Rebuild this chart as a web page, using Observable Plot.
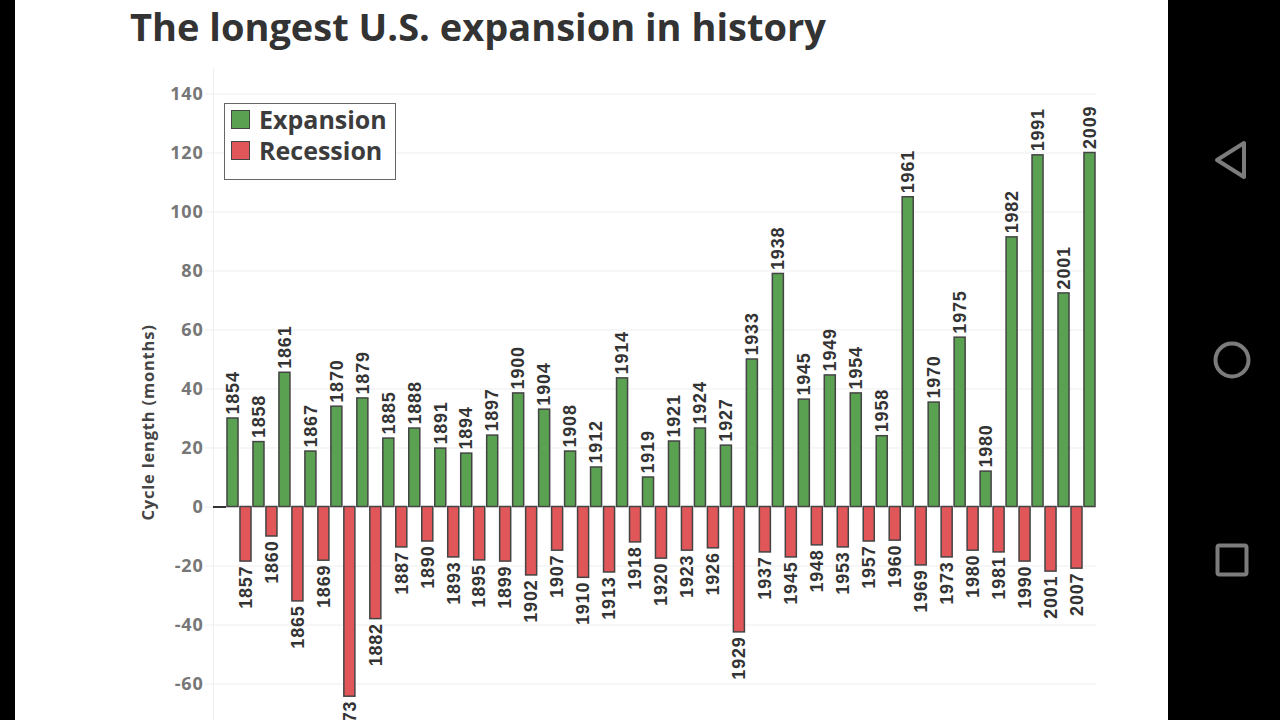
<!DOCTYPE html>
<html>
<head>
<meta charset="utf-8">
<script src="https://cdn.jsdelivr.net/npm/d3@7"></script>
<script src="https://cdn.jsdelivr.net/npm/@observablehq/plot@0.6"></script>
<style>
html,body{margin:0;padding:0;background:#000;width:1280px;height:720px;overflow:hidden}
#page{position:absolute;left:15px;top:0;width:1153px;height:720px;background:#fff;overflow:hidden}
#title{position:absolute;left:115px;top:0px;font:700 38px 'Open Sans',sans-serif;color:#333;white-space:nowrap;z-index:2}
#chart{position:absolute;left:0;top:0}
#chart svg{display:block;letter-spacing:0.8px}
#legend{position:absolute;left:209px;top:103px;width:170px;height:75px;border:1px solid #666;background:#fff;z-index:2;font:700 25px 'Open Sans',sans-serif;color:#3c3c3c}
.row{position:absolute;left:6px;display:flex;align-items:center;gap:9px;height:30px}
.sw{width:17px;height:17px;border:1px solid #444;display:inline-block}
#nav{position:absolute;left:1168px;top:0}
</style>
</head>
<body>
<div id="page">
<div id="title">The longest U.S. expansion in history</div>
<div id="chart"></div>
<div id="legend"></div>
</div>
<svg id="nav" width="112" height="720" fill="none" stroke="#7c7c7c" stroke-width="4" stroke-linejoin="round">
<path d="M49 160 L76 143 V177 Z"/>
<circle cx="64" cy="360" r="16.5"/>
<rect x="49.5" y="545.5" width="29" height="29" rx="2"/>
</svg>
<script>
const expansionYears = [1854,1858,1861,1867,1870,1879,1885,1888,1891,1894,1897,1900,1904,1908,1912,1914,1919,1921,1924,1927,1933,1938,1945,1949,1954,1958,1961,1970,1975,1980,1982,1991,2001,2009];
const expansionMonths = [30,22,45.5,18.8,34,36.8,23.2,26.6,19.8,18.1,24.2,38.5,33,18.8,13.4,43.6,10,22.2,26.6,20.8,50,79,36.4,44.6,38.5,24,105,35.4,57.4,12,91.4,119.2,72.4,120];
const recessionYears = [1857,1860,1865,1869,1873,1882,1887,1890,1893,1895,1899,1902,1907,1910,1913,1918,1920,1923,1926,1929,1937,1945,1948,1953,1957,1960,1969,1973,1980,1981,1990,2001,2007];
const recessionMonths = [-18.5,-10,-32,-18.2,-64.3,-38,-13.7,-11.7,-17.1,-18.1,-18.5,-23.2,-14.8,-24,-22.2,-12,-17.5,-14.8,-14,-42.5,-15.4,-17.1,-13,-13.7,-11.7,-11.4,-19.8,-17.1,-14.8,-15.4,-18.5,-21.9,-20.9];
const tickValues = [-60,-40,-20,0,20,40,60,80,100,120,140];
const seriesNames = ["Expansion","Recession"];
const seriesColors = ["#5aa151","#e15759"];

const rows = [];
expansionYears.forEach((year,i)=>{
  rows.push({key:"E"+year,year:String(year),months:expansionMonths[i],type:seriesNames[0]});
  if(i<recessionYears.length) rows.push({key:"R"+recessionYears[i],year:String(recessionYears[i]),months:recessionMonths[i],type:seriesNames[1]});
});
const up = rows.filter(d=>d.months>0), down = rows.filter(d=>d.months<0);
const labelFont = {fontFamily:"'Liberation Sans',Arial,sans-serif",fontWeight:700,fontSize:18,fill:"#333"};

const plot = Plot.plot({
  width:1153,height:720,
  marginLeft:198,marginRight:72,marginTop:68,marginBottom:0,
  style:{background:"transparent",fontFamily:"'Liberation Sans',sans-serif"},
  x:{type:"band",domain:["",...rows.map(d=>d.key)],range:[199,1080],paddingInner:0.15,paddingOuter:0,round:false,axis:null},
  y:{domain:[-72.37,148.64],ticks:tickValues,label:null},
  color:{domain:seriesNames,range:seriesColors},
  marks:[
    Plot.ruleX([0],{frameAnchor:"left",x:()=>"",dx:-6.5,stroke:"#eee"}),
    Plot.gridY(tickValues,{stroke:"#eee",strokeOpacity:1}),
    Plot.axisY(tickValues,{anchor:"left",tickSize:8,tickPadding:2,stroke:"#eee",fill:"#777",fontWeight:700,fontSize:18,fontFamily:"'Open Sans',sans-serif",tickFormat:d=>String(d),label:null}),
    Plot.axisY([0],{anchor:"left",tickSize:-13,stroke:"#333",strokeWidth:2,text:()=>"",label:null}),
    Plot.barY(rows,{x:"key",y:"months",fill:"type",stroke:"#444",strokeWidth:1.5}),
    Plot.text(up,{x:"key",y:"months",text:"year",rotate:-90,textAnchor:"start",dy:-4,...labelFont}),
    Plot.text(down,{x:"key",y:"months",text:"year",rotate:-90,textAnchor:"end",dy:4,...labelFont}),
    Plot.text(["Cycle length (months)"],{frameAnchor:"left",textAnchor:"middle",rotate:-90,dx:-65,dy:28,fill:"#444",fontWeight:700,fontSize:16.5,fontFamily:"'Open Sans',sans-serif"})
  ]
});
document.getElementById("chart").appendChild(plot);
const lg = document.getElementById("legend");
seriesNames.forEach((n,i)=>{
  const r=document.createElement("div");r.className="row";r.style.top=(0+i*31)+"px";
  r.innerHTML=`<span class="sw" style="background:${seriesColors[i]}"></span><span>${n}</span>`;
  lg.appendChild(r);
});
</script>
</body>
</html>
